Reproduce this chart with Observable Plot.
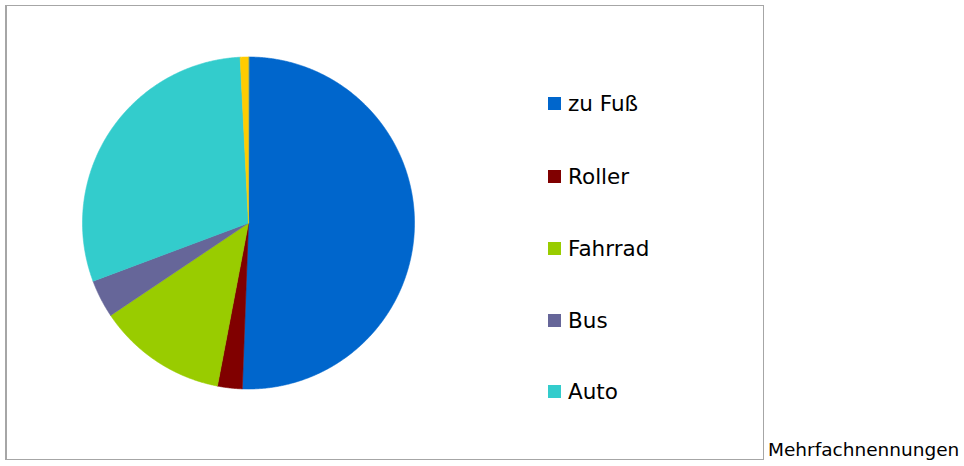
<!DOCTYPE html>
<html><head><meta charset="utf-8">
<script src="https://cdn.jsdelivr.net/npm/d3@7"></script>
<script src="https://cdn.jsdelivr.net/npm/@observablehq/plot@0.6"></script>
<style>
body{margin:0;background:#fff;font-family:"DejaVu Sans",Verdana,sans-serif;}
#wrap{position:relative;width:964px;height:466px;overflow:hidden;background:#fff}
#chart{position:absolute;left:0;top:0}
#frame{position:absolute;left:5px;top:5px;width:756px;height:453px;border:1px solid #a6a6a6;border-left-width:2px;pointer-events:none}
.item{position:absolute;left:548px;height:30px;display:flex;align-items:center;font-size:21.5px;color:#000;white-space:nowrap}
.sw{width:13px;height:13px;margin-right:7px;flex:none}
#note{position:absolute;left:768px;top:439px;font-size:18.5px;color:#000;white-space:nowrap}
</style></head>
<body>
<div id="wrap">
  <div id="frame"></div>
  <div id="chart"></div>
  <div id="legend"></div>
  <div id="note"></div>
</div>
<script>
const categories = ["zu Fuß", "Roller", "Fahrrad", "Bus", "Auto", "Sonstige"];
const shares = [50.6, 2.4, 12.6, 3.7, 29.9, 0.8];
const colors = ["#0066cc", "#800000", "#99cc00", "#666699", "#33cccc", "#ffcc00"];
const legendCategories = ["zu Fuß", "Roller", "Fahrrad", "Bus", "Auto"];
const legendTops = [88, 161, 233, 305, 376];
const noteText = "Mehrfachnennungen";

const data = categories.map((c, i) => ({category: c, value: shares[i]}));
const arcs = d3.pie().sort(null).value(d => d.value)(data);
function slicePolygon(a) {
  const n = Math.max(2, Math.ceil((a.endAngle - a.startAngle) / 0.005));
  const ring = [[0, 0]];
  for (let k = 0; k <= n; k++) {
    const t = a.startAngle + (a.endAngle - a.startAngle) * k / n;
    ring.push([Math.sin(t), -Math.cos(t)]);
  }
  ring.push([0, 0]);
  return {type: "Feature", properties: {category: a.data.category}, geometry: {type: "Polygon", coordinates: [ring]}};
}
const features = arcs.map(slicePolygon);

const plot = Plot.plot({
  width: 964,
  height: 466,
  marginLeft: 82,
  marginRight: 550,
  marginTop: 56.5,
  marginBottom: 77.5,
  projection: {type: "identity", domain: {type: "MultiPoint", coordinates: [[-1, -1], [1, 1]]}},
  color: {domain: categories, range: colors},
  style: {background: "transparent"},
  marks: [
    Plot.geo(features, {fill: d => d.properties.category, stroke: d => d.properties.category, strokeWidth: 0.6})
  ]
});
document.getElementById("chart").appendChild(plot);

const legend = document.getElementById("legend");
legendCategories.forEach((c, i) => {
  const div = document.createElement("div");
  div.className = "item";
  div.style.top = legendTops[i] + "px";
  const sw = document.createElement("span");
  sw.className = "sw";
  sw.style.background = colors[categories.indexOf(c)];
  const tx = document.createElement("span");
  tx.textContent = c;
  div.appendChild(sw); div.appendChild(tx);
  legend.appendChild(div);
});
document.getElementById("note").textContent = noteText;
</script>
</body></html>
